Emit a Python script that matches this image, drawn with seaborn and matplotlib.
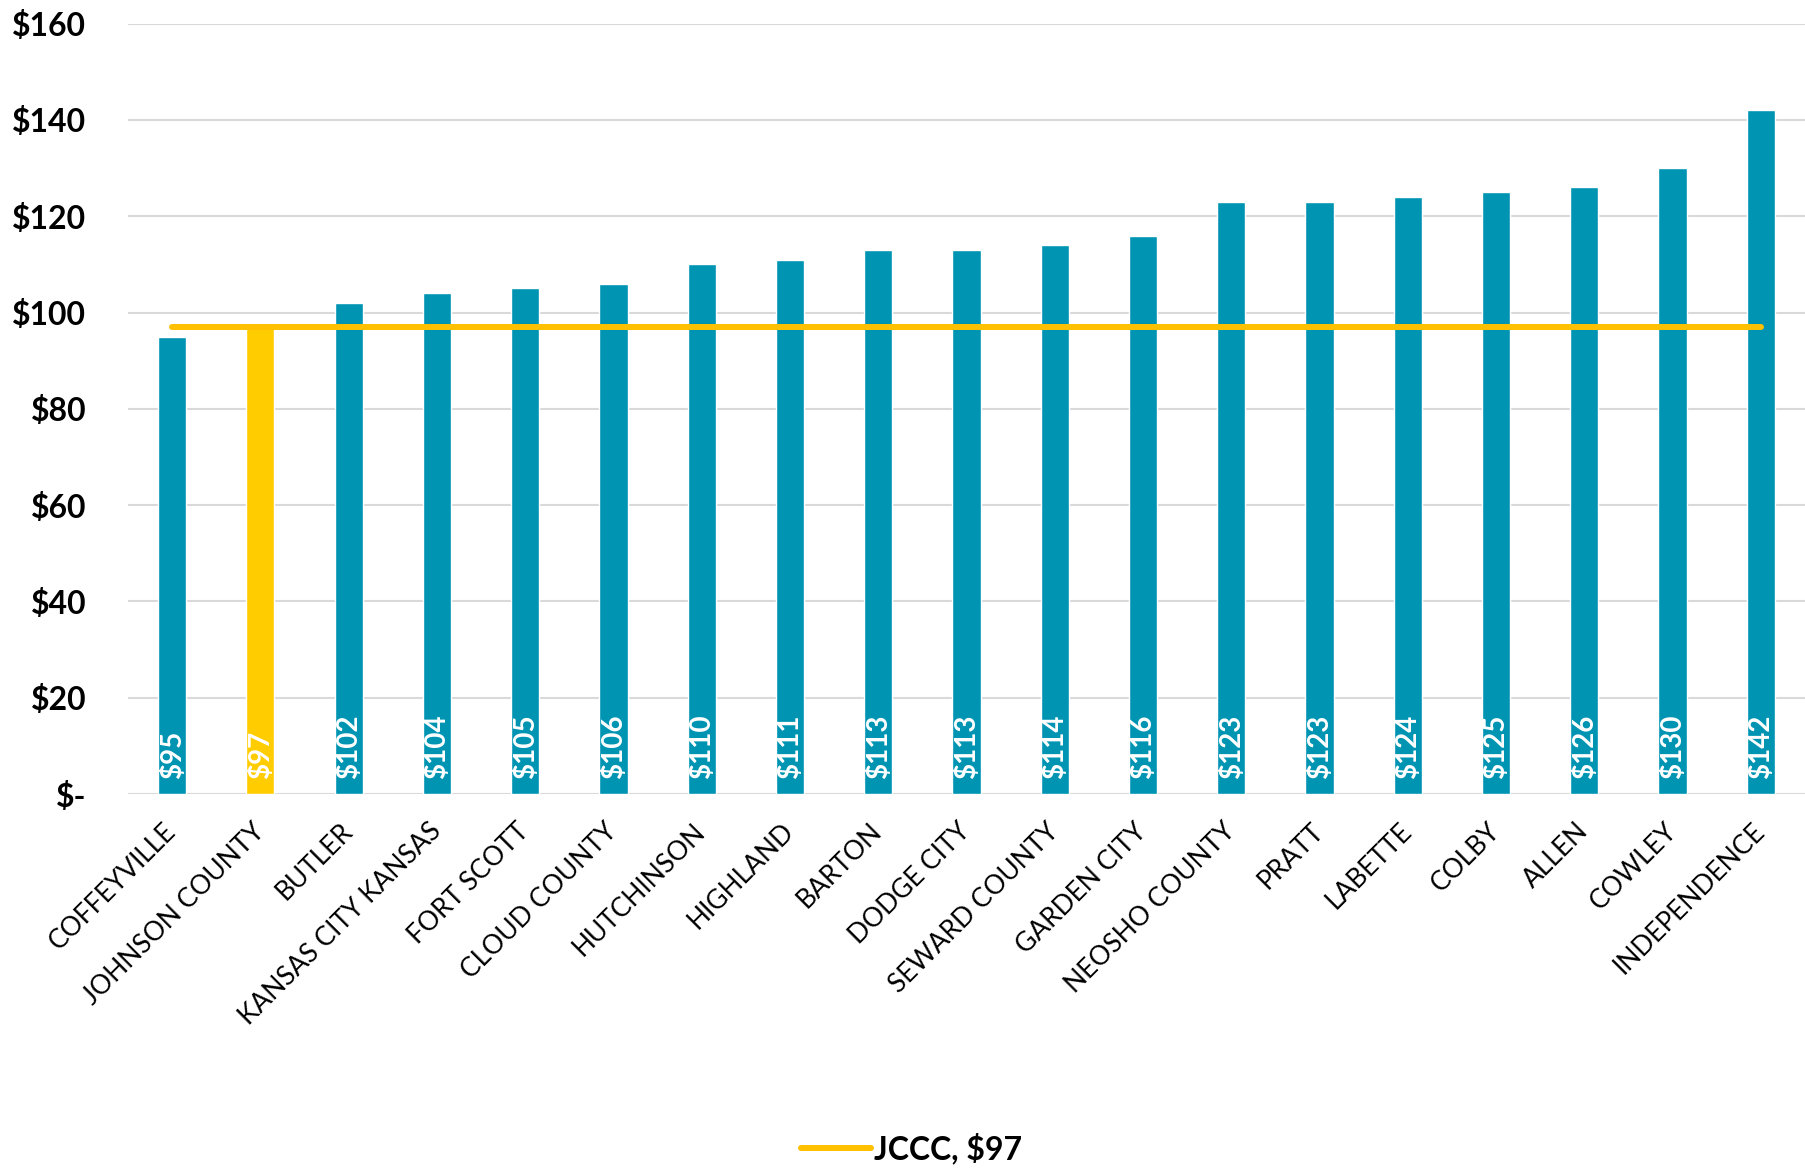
import matplotlib
matplotlib.use("Agg")
import matplotlib.pyplot as plt
import seaborn as sns
import numpy as np
from matplotlib.lines import Line2D

colleges = ["COFFEYVILLE", "JOHNSON COUNTY", "BUTLER", "KANSAS CITY KANSAS", "FORT SCOTT",
            "CLOUD COUNTY", "HUTCHINSON", "HIGHLAND", "BARTON", "DODGE CITY",
            "SEWARD COUNTY", "GARDEN CITY", "NEOSHO COUNTY", "PRATT", "LABETTE",
            "COLBY", "ALLEN", "COWLEY", "INDEPENDENCE"]
costs = [95, 97, 102, 104, 105, 106, 110, 111, 113, 113, 114, 116, 123, 123, 124, 125, 126, 130, 142]
jccc_value = 97
jccc_label = "JCCC, $97"
y_ticks = [0, 20, 40, 60, 80, 100, 120, 140, 160]
y_tick_labels = ["$-", "$20", "$40", "$60", "$80", "$100", "$120", "$140", "$160"]

TEAL = "#0094B3"
GOLD_BAR = "#FFCC00"
GOLD_LINE = "#FFC000"

sns.set_theme(style="white")
plt.rcParams["font.family"] = ["Lato", "DejaVu Sans"]

fig = plt.figure(figsize=(18.05, 11.68), dpi=100)
ax = fig.add_axes([0.0709, 0.3202, 0.9291, 0.6595])

palette = [GOLD_BAR if c == "JOHNSON COUNTY" else TEAL for c in colleges]
sns.barplot(x=colleges, y=costs, hue=colleges, palette=palette, legend=False,
            width=0.32, saturation=1, ax=ax, zorder=2)

n = len(colleges)
sns.lineplot(x=np.arange(n), y=[jccc_value] * n, color=GOLD_LINE, linewidth=4.3,
             ax=ax, zorder=3, solid_capstyle="round")

for i, v in enumerate(costs):
    ax.annotate(f"${v}", xy=(i, 0), xytext=(0, 11), textcoords="offset points",
                rotation=90, ha="center", va="bottom", color="white",
                fontsize=20, fontweight="bold", zorder=4)

ax.set_xlim(-0.5, n - 0.5)
ax.set_ylim(0, 160)
ax.set_yticks(y_ticks)
ax.set_yticklabels(y_tick_labels, fontsize=23, fontweight="bold", color="black")
ax.tick_params(axis="y", length=0, pad=30)
ax.set_xticks(np.arange(n))
ax.set_xticklabels(colleges, rotation=45, ha="right", va="center",
                   rotation_mode="anchor", fontsize=19, color="black")
ax.tick_params(axis="x", length=0, pad=24)
ax.yaxis.grid(True, color="#D9D9D9", linewidth=1.5, zorder=0)
ax.set_axisbelow(True)
for s in ax.spines.values():
    s.set_visible(False)
ax.set_xlabel("")
ax.set_ylabel("")

handle = Line2D([0], [0], color=GOLD_LINE, linewidth=4.3, solid_capstyle="round")
leg = fig.legend([handle], [jccc_label], loc="center", bbox_to_anchor=(0.505, 0.017),
                 frameon=False, handlelength=2.2, handletextpad=0.1,
                 labelcolor="black", prop={"size": 23, "weight": "bold"})

fig.savefig("out.png", dpi=100)
